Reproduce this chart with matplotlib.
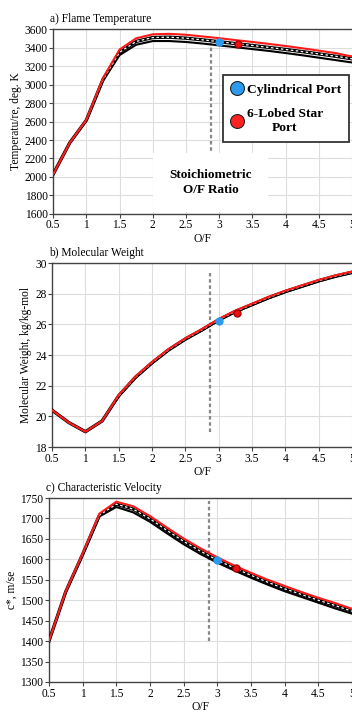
import numpy as np
import matplotlib as mpl
mpl.use('Agg')
import matplotlib.pyplot as plt
from matplotlib.lines import Line2D

plt.rcParams['font.family'] = ['Liberation Serif', 'DejaVu Serif']

# O/F ratio grid
of = [0.5, 0.75, 1.0, 1.25, 1.5, 1.75, 2.0, 2.25, 2.5, 2.75, 3.0,
      3.25, 3.5, 3.75, 4.0, 4.25, 4.5, 4.75, 5.0]

# a) flame temperature, K
temp_low = [2030, 2370, 2610, 3040, 3320, 3432, 3472, 3472, 3462, 3445, 3425,
            3405, 3385, 3365, 3342, 3318, 3292, 3266, 3240]
temp_mid = [2030, 2370, 2615, 3055, 3350, 3468, 3510, 3514, 3503, 3485, 3465,
            3444, 3424, 3403, 3381, 3358, 3333, 3308, 3280]
temp_high = [2030, 2370, 2620, 3070, 3380, 3502, 3545, 3550, 3540, 3522, 3503,
             3482, 3462, 3441, 3418, 3394, 3368, 3342, 3305]

# b) molecular weight, kg/kg-mol
mw_low = [20.4, 19.6, 19.0, 19.7, 21.3, 22.5, 23.45, 24.3, 25.0, 25.6, 26.25,
          26.8, 27.25, 27.7, 28.1, 28.45, 28.8, 29.1, 29.35]
mw_mid = [20.4, 19.6, 19.0, 19.7, 21.35, 22.55, 23.5, 24.35, 25.05, 25.65, 26.3,
          26.85, 27.3, 27.75, 28.15, 28.5, 28.85, 29.15, 29.4]
mw_high = [20.4, 19.6, 19.0, 19.7, 21.4, 22.6, 23.55, 24.4, 25.1, 25.7, 26.35,
           26.9, 27.35, 27.8, 28.2, 28.55, 28.9, 29.2, 29.45]

# c) characteristic velocity, m/s
cstar_low = [1400, 1520, 1610, 1705, 1728, 1715, 1692, 1664, 1637, 1613, 1592,
             1573, 1555, 1538, 1522, 1508, 1494, 1480, 1467]
cstar_mid = [1400, 1521, 1612, 1708, 1735, 1723, 1699, 1671, 1644, 1620, 1598,
             1579, 1561, 1544, 1528, 1514, 1500, 1487, 1473]
cstar_high = [1400, 1522, 1614, 1712, 1741, 1730, 1706, 1678, 1651, 1627, 1605,
              1585, 1567, 1550, 1535, 1520, 1506, 1493, 1479]

# measured points
cyl_of = 3.0
star_of = 3.28
cyl_pts = [3460, 26.2, 1598]
star_pts = [3437, 26.75, 1578]

stoich_of = 2.87
stoich_span = [(2220, 3455), (19.0, 29.35), (1400, 1742)]

panels = [
    dict(title='a) Flame Temperature', ylabel='Temperatu/re, deg. K',
         curves=(temp_low, temp_mid, temp_high), ylim=(1600, 3600),
         yticks=np.arange(1600, 3601, 200),
         rect=[0.151, 0.700, 0.849, 0.259]),
    dict(title='b) Molecular Weight', ylabel='Molecular Weight, kg/kg-mol',
         curves=(mw_low, mw_mid, mw_high), ylim=(18, 30),
         yticks=np.arange(18, 31, 2),
         rect=[0.148, 0.373, 0.852, 0.258]),
    dict(title='c) Characteristic Velocity', ylabel='c*, m/se',
         curves=(cstar_low, cstar_mid, cstar_high), ylim=(1300, 1750),
         yticks=np.arange(1300, 1751, 50),
         rect=[0.139, 0.0435, 0.861, 0.258]),
]

fig = plt.figure(figsize=(3.52, 7.13), dpi=100)
axc = '#444444'
fs = 8.3

for i, p in enumerate(panels):
    ax = fig.add_axes(p['rect'])
    low, mid, high = p['curves']
    ax.plot(of, low, color='black', lw=1.5, zorder=3)
    ax.plot(of, mid, color='black', lw=2.4, zorder=3)
    ax.plot(of, mid, color='white', lw=0.9, dashes=(2, 2), zorder=3)
    ax.plot(of, high, color='#ff1a1a', lw=1.5, zorder=3)
    ax.plot([cyl_of], [cyl_pts[i]], 'o', color='#2b9bf0', ms=5, zorder=4)
    ax.plot([star_of], [star_pts[i]], 'o', color='#ee1111', mec='#aa0000',
            ms=5, zorder=4)
    y0, y1 = stoich_span[i]
    ax.plot([stoich_of, stoich_of], [y0, y1], color='#888888', lw=1.6,
            dashes=(1.6, 1.2), zorder=2)

    ax.set_xlim(0.5, 5)
    ax.set_ylim(*p['ylim'])
    ax.set_xticks(np.arange(0.5, 5.01, 0.5))
    ax.set_xticklabels(['0.5', '1', '1.5', '2', '2.5', '3', '3.5', '4', '4.5', '5'])
    ax.set_yticks(p['yticks'])
    ax.grid(True, color='#dddddd', lw=0.8)
    ax.set_axisbelow(True)
    for s in ['left', 'bottom', 'top']:
        ax.spines[s].set_color(axc)
        ax.spines[s].set_linewidth(1.0)
    ax.spines['right'].set_visible(False)
    ax.tick_params(direction='out', length=3, width=0.8, color=axc,
                   labelsize=fs, pad=1)
    ax.tick_params(axis='x', top=False)
    ax.set_xlabel('O/F', fontsize=fs, labelpad=1)
    ax.set_ylabel(p['ylabel'], fontsize=fs, labelpad=2)
    ax.set_title(p['title'], fontsize=fs, loc='left', x=-0.01, pad=5)

    if i == 0:
        ax.text(stoich_of, 1940, 'Stoichiometric\nO/F Ratio', ha='center',
                va='center', fontsize=9.5, fontweight='bold', zorder=5,
                linespacing=1.3,
                bbox=dict(boxstyle='square,pad=1.2', fc='white', ec='none'))
        handles = [
            Line2D([], [], ls='none', marker='o', ms=10, mfc='#2b9bf0',
                   mec='#222222', mew=0.8),
            Line2D([], [], ls='none', marker='o', ms=10, mfc='#ff2222',
                   mec='#222222', mew=0.8),
        ]
        leg = ax.legend(handles, ['Cylindrical Port', '6-Lobed Star\nPort'],
                        loc='upper right', bbox_to_anchor=(0.99, 0.75),
                        prop=dict(size=9.7, weight='bold'), fancybox=False,
                        edgecolor='#333333', framealpha=1, handletextpad=0.25,
                        borderpad=0.6, labelspacing=0.9, handlelength=0.9,
                        borderaxespad=0)
        leg.get_frame().set_linewidth(1.3)
        leg.set_zorder(6)
        for t in leg.get_texts():
            t.set_multialignment('center')

fig.savefig('out.png', dpi=100)
